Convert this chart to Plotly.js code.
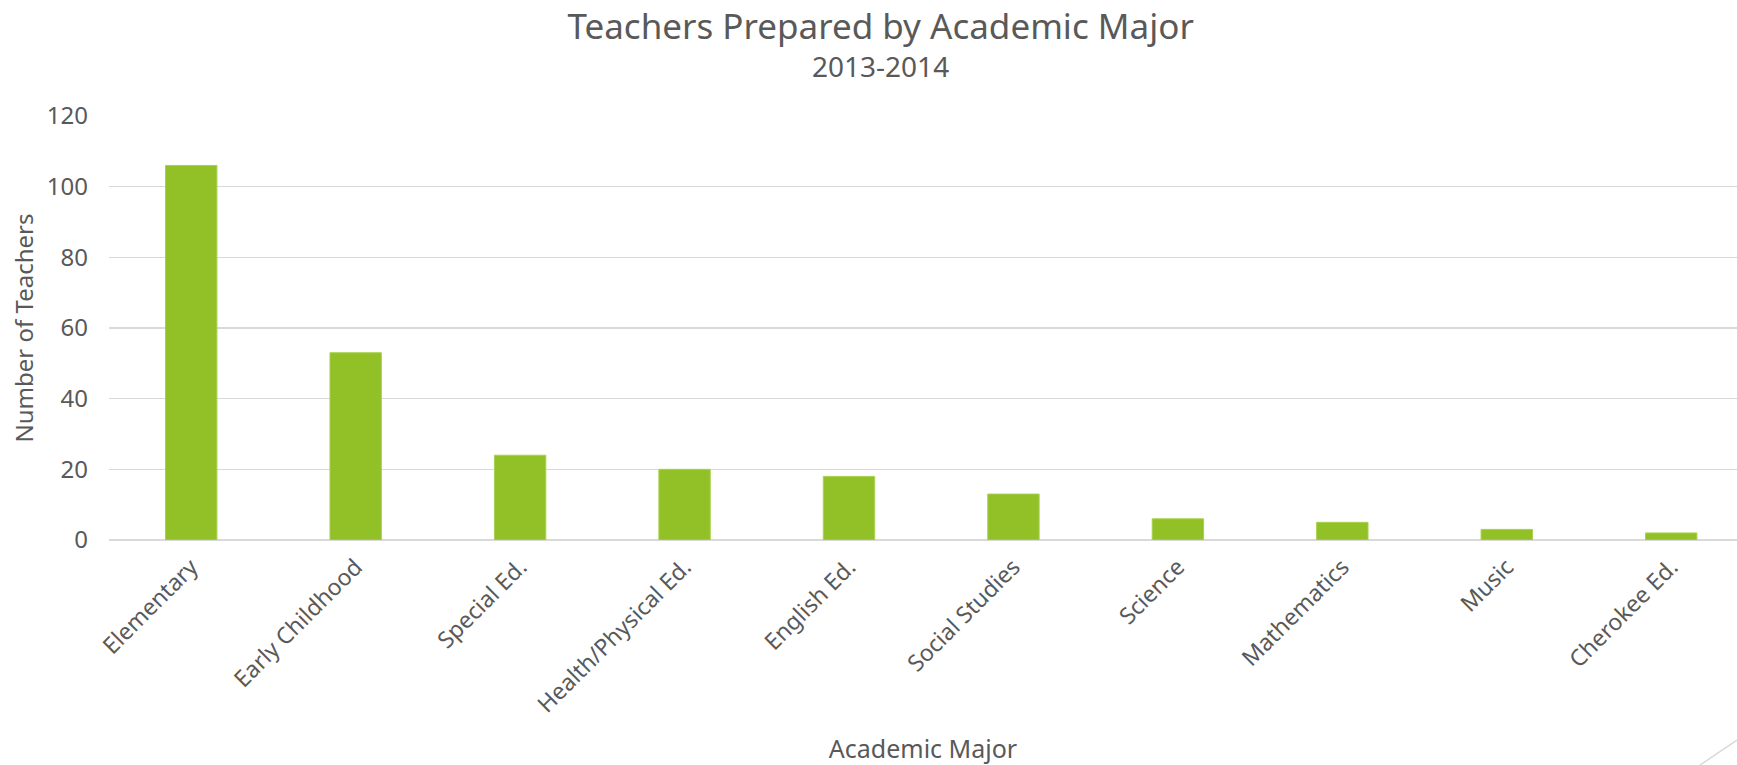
<!DOCTYPE html>
<html>
<head>
<meta charset="utf-8">
<script src="https://cdn.plot.ly/plotly-3.0.1.min.js"></script>
<style>
html,body{margin:0;padding:0;background:#fff;overflow:hidden;}
#chart{width:1737px;height:765px;}
</style>
</head>
<body>
<div id="chart"></div>
<script>
const categories = ["Elementary", "Early Childhood", "Special Ed.", "Health/Physical Ed.", "English Ed.", "Social Studies", "Science", "Mathematics", "Music", "Cherokee Ed."];
const teachers = [106, 53, 24, 20, 18, 13, 6, 5, 3, 2];
const yTicks = [0, 20, 40, 60, 80, 100, 120];
const subtitleText = "2013-2014";

const FONT = "Noto Sans, Open Sans, sans-serif";
const TXT = "#595959";

const trace = {
  type: "bar",
  x: categories,
  y: teachers,
  marker: {color: "#92C127", line: {color: "#A8D050", width: 1}},
  hoverinfo: "x+y"
};

const layout = {
  width: 1737,
  height: 765,
  paper_bgcolor: "#ffffff",
  plot_bgcolor: "#ffffff",
  margin: {l: 109, r: 0, t: 116, b: 225},
  bargap: 0.6875,
  showlegend: false,
  font: {family: FONT, color: TXT, size: 20},
  title: {
    text: "Teachers Prepared by Academic Major",
    font: {family: FONT, size: 35, color: TXT},
    x: 0.507, xanchor: "center", xref: "container",
    y: 0.9647, yanchor: "middle", yref: "container"
  },
  annotations: [{
    text: subtitleText,
    xref: "paper", yref: "paper",
    x: 0.474, y: 1.118, xanchor: "center", yanchor: "middle",
    showarrow: false,
    font: {family: FONT, size: 28, color: TXT}
  }],
  xaxis: {
    type: "category",
    range: [-0.5, 9.4],
    tickangle: -45,
    tickfont: {family: FONT, size: 23, color: TXT},
    ticklabelstandoff: 8,
    showgrid: false,
    showline: false,
    zeroline: false,
    ticks: "",
    automargin: false,
    title: {text: "Academic Major", font: {family: FONT, size: 25, color: TXT}, standoff: 30}
  },
  yaxis: {
    range: [0, 120],
    tickvals: yTicks,
    ticktext: yTicks.map(String),
    tickfont: {family: FONT, size: 24, color: TXT},
    ticklabelstandoff: 20,
    showgrid: true,
    gridcolor: "#D9D9D9",
    gridwidth: 1.5,
    zeroline: true,
    zerolinecolor: "#D9D9D9",
    zerolinewidth: 1.5,
    showline: false,
    ticks: "",
    ticklen: 0,
    automargin: false,
    title: {text: "Number of Teachers", font: {family: FONT, size: 24, color: TXT}, standoff: 6}
  },
  shapes: [{
    type: "line", xref: "paper", yref: "paper",
    x0: 0.9773, y0: -0.5307, x1: 1.0, y1: -0.4717,
    line: {color: "#D9D9D9", width: 1.5}
  }]
};

Plotly.newPlot("chart", [trace], layout, {displayModeBar: false, staticPlot: true});
</script>
</body>
</html>
